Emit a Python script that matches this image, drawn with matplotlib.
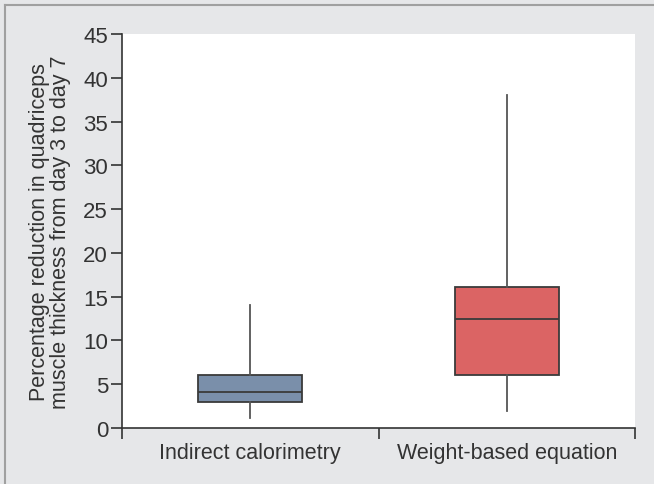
import matplotlib
matplotlib.use("Agg")
import matplotlib.pyplot as plt
from matplotlib.lines import Line2D

plt.rcParams['font.family'] = ['Liberation Sans', 'DejaVu Sans']

categories = ["Indirect calorimetry", "Weight-based equation"]
whislo = [1.1, 1.9]
q1 = [3.0, 6.0]
med = [4.1, 12.5]
q3 = [6.0, 16.1]
whishi = [14.0, 38.0]
fills = ["#7a8faa", "#db6464"]
yticks = [0, 5, 10, 15, 20, 25, 30, 35, 40, 45]

fig = plt.figure(figsize=(6.54, 4.85), dpi=100)
fig.patch.set_facecolor("#e6e7e9")
ax = fig.add_axes([122/654, 1 - 429/485, (635-122)/654, (429-35)/485])
ax.set_facecolor("white")

stats = []
for i, c in enumerate(categories):
    stats.append(dict(label=c, whislo=whislo[i], q1=q1[i], med=med[i], q3=q3[i],
                      whishi=whishi[i], fliers=[]))
bp = ax.bxp(stats, positions=range(len(categories)), widths=0.405, patch_artist=True,
            showcaps=False,
            boxprops=dict(edgecolor="#3a3a3a", linewidth=1.3),
            medianprops=dict(color="#3a3a3a", linewidth=1.3),
            whiskerprops=dict(color="#555555", linewidth=1.3))
for p, f in zip(bp['boxes'], fills):
    p.set_facecolor(f)

ax.set_xlim(-0.5, 1.5)
ax.set_ylim(0, 45)
ax.set_yticks(yticks)
ax.set_xticks([-0.5, 0.5, 1.5])
ax.set_xticklabels([])
ax.set_xticks(range(len(categories)), minor=True)
ax.set_xticklabels(categories, minor=True, fontsize=15.5, color="#333333")
ax.tick_params(axis='x', which='minor', length=0, pad=10)
ax.tick_params(axis='x', which='major', length=8, width=1.2, color="#333333", direction='out')
ax.tick_params(axis='y', length=8, width=1.2, color="#333333", labelsize=16, labelcolor="#333333", pad=2)
for s in ['top', 'right']:
    ax.spines[s].set_visible(False)
for s in ['left', 'bottom']:
    ax.spines[s].set_color("#333333")
    ax.spines[s].set_linewidth(1.2)
ax.set_ylabel("Percentage reduction in quadriceps\nmuscle thickness from day 3 to day 7",
              fontsize=15.5, color="#333333", labelpad=9, linespacing=1.0)

# figure border lines (left and top)
fig.add_artist(Line2D([5.5/654, 5.5/654], [0, 1 - 6/485], transform=fig.transFigure, color="#a0a0a0", linewidth=1.5))
fig.add_artist(Line2D([5.5/654, 1], [1 - 6/485, 1 - 6/485], transform=fig.transFigure, color="#a0a0a0", linewidth=1.5))

fig.savefig("out.png", dpi=100, facecolor=fig.get_facecolor())
